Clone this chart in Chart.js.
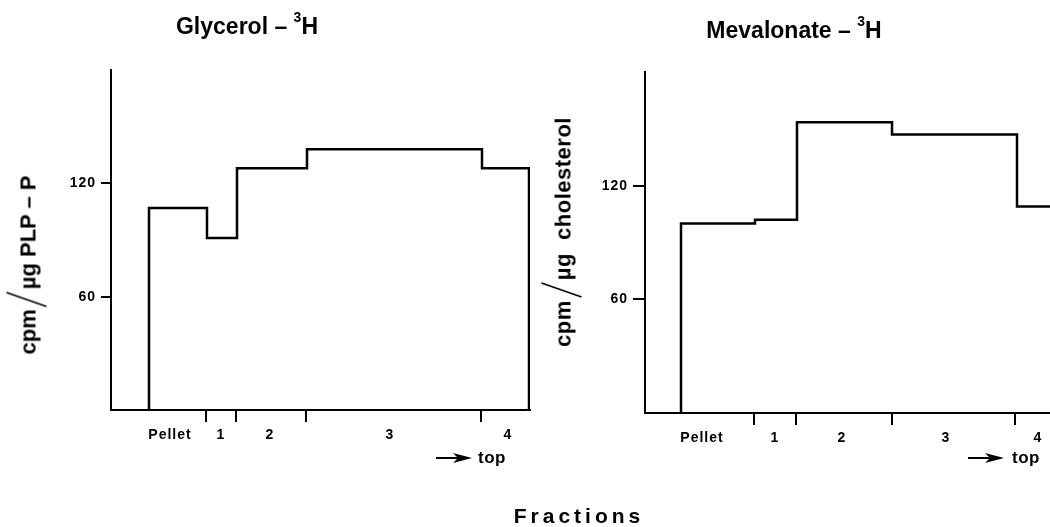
<!DOCTYPE html>
<html>
<head>
<meta charset="utf-8">
<script src="https://cdn.jsdelivr.net/npm/chart.js@4.4.1/dist/chart.umd.min.js"></script>
<style>
  html, body { margin: 0; padding: 0; background: #fff; }
  #wrap { position: relative; width: 1050px; height: 527px; overflow: hidden; background: #fff;
          font-family: "Liberation Sans", Arial, Helvetica, sans-serif; color: #000; }
  canvas { position: absolute; top: 0; }
  .t { position: absolute; font-weight: bold; white-space: nowrap; line-height: 1; }
  .title { font-size: 23px; transform: translateX(-50%); }
  .title sup { font-size: 14px; position: relative; top: -3px; }
  .ytitle { font-size: 22px; transform: translate(-50%, -50%) rotate(-90deg); transform-origin: 50% 50%; }
  .slash { display: inline-block; width: 16px; height: 22px; position: relative; margin: 0 2px; vertical-align: -3px; }
  .slash svg { position: absolute; left: 0; top: -10px; overflow: visible; }
  .fr { font-size: 21px; letter-spacing: 4px; transform: translateX(-50%); }
  .top { font-size: 17px; letter-spacing: 0.5px; }
</style>
</head>
<body>
<div id="wrap">
  <canvas id="cL" width="540" height="527" style="left:0;width:540px;height:527px"></canvas>
  <canvas id="cR" width="510" height="527" style="left:540px;width:510px;height:527px"></canvas>

  <div class="t title" style="left:247px;top:13px">Glycerol – <sup>3</sup>H</div>
  <div class="t title" style="left:794px;top:17px">Mevalonate – <sup>3</sup>H</div>

  <div class="t ytitle" style="left:28px;top:265px">cpm<span class="slash"><svg width="16" height="40"><line x1="1" y1="40" x2="15" y2="0" stroke="#000" stroke-width="1.6"/></svg></span>µg PLP – P</div>
  <div class="t ytitle" style="left:563px;top:232px;letter-spacing:0.5px">cpm<span class="slash"><svg width="16" height="40"><line x1="1" y1="40" x2="15" y2="0" stroke="#000" stroke-width="1.6"/></svg></span>µg&nbsp; cholesterol</div>

  <svg style="position:absolute;left:436px;top:452px" width="38" height="12"><line x1="0" y1="6" x2="24" y2="6" stroke="#000" stroke-width="2"/><polygon points="36,6 17,1 22,6 17,11" fill="#000"/></svg>
  <div class="t top" style="left:478px;top:449px">top</div>
  <svg style="position:absolute;left:968px;top:452px" width="38" height="12"><line x1="0" y1="6" x2="24" y2="6" stroke="#000" stroke-width="2"/><polygon points="36,6 17,1 22,6 17,11" fill="#000"/></svg>
  <div class="t top" style="left:1012px;top:449px">top</div>

  <div class="t fr" style="left:579px;top:505px">Fractions</div>
</div>
<script>
// ---- data ----
const fractionLabels = ['Pellet', '1', '2', '3', '4'];
const yTickValues = [60, 120];

// Glycerol-3H (left panel): fraction boundaries along the gradient, and cpm/µg PLP-P per fraction
const glycerolBounds = [3.8, 9.6, 12.6, 19.6, 37.1, 41.8];
const glycerolValues = [107, 91, 128, 138, 128];
const glycerolTickMarks = [9.5, 12.5, 19.5, 37.0];
const glycerolLabelPos = [5.9, 11.0, 15.9, 27.9, 39.7];

// Mevalonate-3H (right panel): cpm/µg cholesterol per fraction
const mevalonateBounds = [3.6, 11.0, 15.2, 24.7, 37.2, 42.0];
const mevalonateValues = [100, 102, 153.5, 147, 109];
const mevalonateTickMarks = [10.9, 15.1, 24.7, 37.0];
const mevalonateLabelPos = [5.7, 13.0, 19.7, 30.1, 39.3];

const FONT = '"Liberation Sans", Arial, Helvetica, sans-serif';

function stepData(bounds, values) {
  const pts = [{ x: bounds[0], y: 0 }];
  values.forEach((v, i) => pts.push({ x: bounds[i], y: v }));
  pts.push({ x: bounds[bounds.length - 1], y: 0 });
  return pts;
}

const spacingPlugin = {
  id: 'spacing',
  beforeUpdate(chart) { chart.ctx.letterSpacing = '1px'; },
  beforeDraw(chart) { chart.ctx.letterSpacing = '1px'; }
};

function makeChart(id, cfg) {
  const allTicks = cfg.tickMarks.map(v => ({ value: v, mark: true }))
    .concat(cfg.labelPos.map((v, i) => ({ value: v, mark: false, text: fractionLabels[i] })))
    .sort((a, b) => a.value - b.value);
  const markSet = new Set(cfg.tickMarks);
  return new Chart(document.getElementById(id), {
    type: 'line',
    data: {
      datasets: [{
        data: stepData(cfg.bounds, cfg.values),
        stepped: 'before',
        borderColor: '#000',
        borderWidth: 2.5,
        pointRadius: 0,
        fill: false
      }]
    },
    options: {
      responsive: false,
      animation: false,
      devicePixelRatio: 1,
      layout: { padding: cfg.padding },
      plugins: { legend: { display: false }, tooltip: { enabled: false }, title: { display: false } },
      scales: {
        x: {
          type: 'linear',
          min: 0,
          max: cfg.xMax,
          afterBuildTicks: s => { s.ticks = allTicks.map(t => ({ value: t.value })); },
          afterFit: s => { s.height = 40; },
          grid: {
            drawOnChartArea: false,
            drawTicks: true,
            tickLength: 12,
            lineWidth: 2,
            color: ctx => (ctx.tick && markSet.has(ctx.tick.value)) ? '#000' : 'rgba(0,0,0,0)'
          },
          border: { display: true, color: '#000', width: 2 },
          ticks: {
            autoSkip: false,
            maxRotation: 0,
            minRotation: 0,
            padding: 5,
            color: '#000',
            font: { family: FONT, size: 14, weight: 'bold' },
            callback: (value) => {
              const t = allTicks.find(a => a.value === value);
              return (t && !t.mark) ? t.text : '';
            }
          }
        },
        y: {
          type: 'linear',
          min: 0,
          max: 180,
          afterBuildTicks: s => { s.ticks = yTickValues.map(v => ({ value: v })); },
          afterFit: s => { s.width = cfg.yWidth; },
          grid: { drawOnChartArea: false, drawTicks: true, tickLength: cfg.yTickLen, lineWidth: 2, color: '#000' },
          border: { display: true, color: '#000', width: 2 },
          ticks: { color: '#000', padding: 5, font: { family: FONT, size: 14, weight: 'bold' } }
        }
      }
    },
    plugins: [spacingPlugin]
  });
}

makeChart('cL', {
  bounds: glycerolBounds, values: glycerolValues, tickMarks: glycerolTickMarks, labelPos: glycerolLabelPos,
  xMax: 41.9, yWidth: 111, yTickLen: 10,
  padding: { top: 70, left: 0, right: 10, bottom: 77 }
});
makeChart('cR', {
  bounds: mevalonateBounds, values: mevalonateValues, tickMarks: mevalonateTickMarks, labelPos: mevalonateLabelPos,
  xMax: 40.5, yWidth: 105, yTickLen: 12,
  padding: { top: 72, left: 0, right: 0, bottom: 74 }
});
</script>
</body>
</html>
